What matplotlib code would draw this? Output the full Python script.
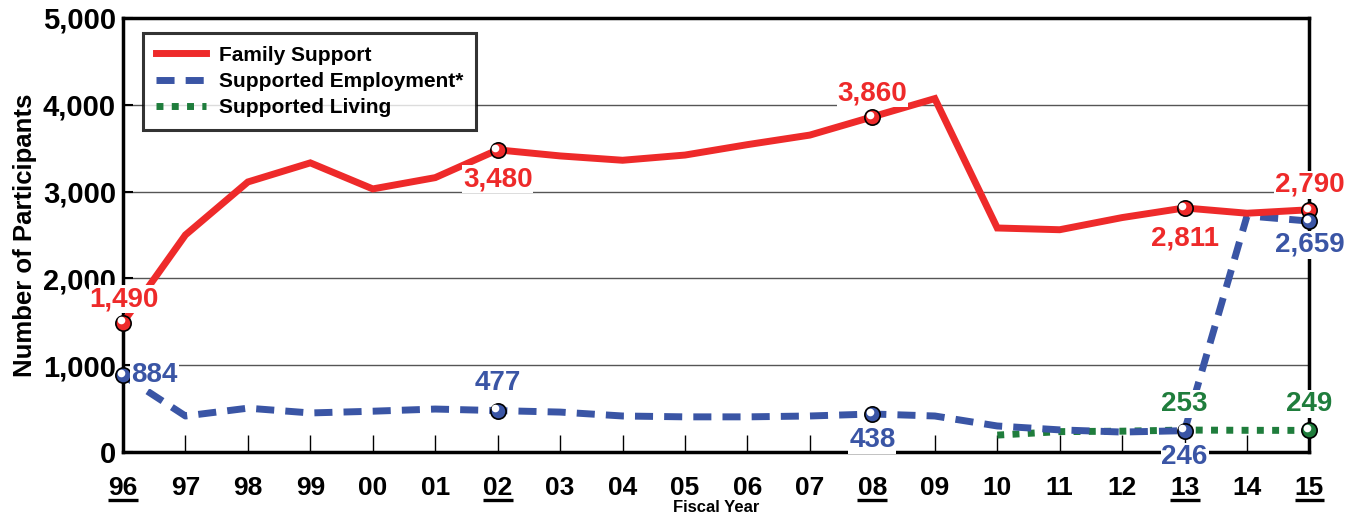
import numpy as np
import matplotlib
matplotlib.use('agg')
import matplotlib.pyplot as plt
import matplotlib.transforms as mtransforms

# Fiscal years and series values
years = ['96', '97', '98', '99', '00', '01', '02', '03', '04', '05',
         '06', '07', '08', '09', '10', '11', '12', '13', '14', '15']
family_support = [1490, 2500, 3110, 3330, 3030, 3160, 3480, 3410, 3360, 3420,
                  3540, 3650, 3860, 4070, 2580, 2560, 2700, 2811, 2750, 2790]
supported_employment = [884, 415, 505, 450, 470, 495, 477, 460, 415, 405,
                        405, 415, 438, 415, 300, 255, 230, 246, 2720, 2659]
supported_living_years = ['10', '11', '12', '13', '14', '15']
supported_living = [195, 235, 240, 253, 250, 249]
underlined_years = ['96', '02', '08', '13', '15']

RED = '#ee2a2a'
BLUE = '#3a55a5'
GREEN = '#1f7d3c'

plt.rcParams['font.family'] = ['Liberation Sans', 'DejaVu Sans']
plt.rcParams['font.weight'] = 'bold'

fig = plt.figure(figsize=(13.56, 5.25), dpi=100)
ax = fig.add_axes([0.0907, 0.139, 0.875, 0.827])

x = np.arange(len(years))
xl = np.array([years.index(y) for y in supported_living_years])

ax.plot(x, family_support, color=RED, lw=5, solid_joinstyle='miter', label='Family Support', zorder=4)
ax.plot(x, supported_employment, color=BLUE, lw=5, dashes=(2.6, 1.6), label='Supported Employment*', zorder=3)
ax.plot(xl, supported_living, color=GREEN, lw=5, dashes=(1.0, 1.2), label='Supported Living', zorder=2)

# highlighted points
mark_idx = [years.index(y) for y in underlined_years]
shine = ax.transData + mtransforms.ScaledTranslation(-1.6 / 72, 1.6 / 72, fig.dpi_scale_trans)


def sphere(xs, ys, color):
    ax.plot(xs, ys, 'o', ms=11, mfc=color, mec='black', mew=1.2, zorder=6, clip_on=False)
    ax.plot(xs, ys, 'o', ms=5.5, mfc='white', mec='none', zorder=7, clip_on=False, transform=shine)


sphere(mark_idx, [family_support[i] for i in mark_idx], RED)
sphere(mark_idx, [supported_employment[i] for i in mark_idx], BLUE)
sphere([xl[-1]], [supported_living[-1]], GREEN)

# data labels
bb = dict(facecolor='white', edgecolor='none', pad=0.5)


def label(i, y, txt, color, dx, dy, ha='center'):
    ax.annotate(txt, (i, y), xytext=(dx, dy), textcoords='offset points', ha=ha, va='center',
                color=color, fontsize=20, fontweight='bold', bbox=bb, zorder=8, annotation_clip=False)


label(0, 1490, '1,490', RED, 1, 17)
label(0, 884, '884', BLUE, 6, 0, ha='left')
label(6, 3480, '3,480', RED, 0, -21)
label(6, 477, '477', BLUE, 0, 20)
label(12, 3860, '3,860', RED, 0, 17)
label(12, 438, '438', BLUE, 0, -19)
label(17, 2811, '2,811', RED, 0, -22)
label(17, 253, '253', GREEN, 0, 19)
label(17, 246, '246', BLUE, 0, -19)
label(19, 2790, '2,790', RED, 0, 18)
label(19, 2659, '2,659', BLUE, 0, -17)
label(19, 249, '249', GREEN, 0, 19)

ax.set_xlim(0, 19)
ax.set_ylim(0, 5000)
ax.set_yticks([0, 1000, 2000, 3000, 4000, 5000])
ax.set_yticklabels(['0', '1,000', '2,000', '3,000', '4,000', '5,000'], fontsize=21, fontweight='bold')
ax.set_xticks(x)
ax.set_xticklabels(years, fontsize=19, fontweight='bold')
ax.tick_params(axis='x', direction='in', length=12, width=1, pad=17, colors='black')
ax.tick_params(axis='y', direction='in', length=7, width=1.5, pad=5)
ax.grid(axis='y', color='#555555', lw=1)
ax.set_axisbelow(True)
for s in ax.spines.values():
    s.set_linewidth(2.5)

# underline the highlighted years
under = mtransforms.blended_transform_factory(ax.transData, ax.transAxes)
for i in mark_idx:
    ax.plot([i - 0.24, i + 0.24], [-0.11, -0.11], color='black', lw=2.4,
            transform=under, clip_on=False, solid_capstyle='butt')

ax.set_ylabel('Number of Participants', fontsize=18.5, fontweight='bold', labelpad=4)
ax.set_xlabel('Fiscal Year', fontsize=12, fontweight='bold', labelpad=0)

leg = ax.legend(loc='upper left', bbox_to_anchor=(0.017, 0.965), borderaxespad=0, fontsize=15,
                frameon=True, fancybox=False, handlelength=2.4, borderpad=0.6, labelspacing=0.35,
                handletextpad=0.65)
leg.get_frame().set_edgecolor('black')
leg.get_frame().set_linewidth(2.2)
leg.set_zorder(10)
for t in leg.get_texts():
    t.set_fontweight('bold')

fig.savefig('out.png', dpi=100)
